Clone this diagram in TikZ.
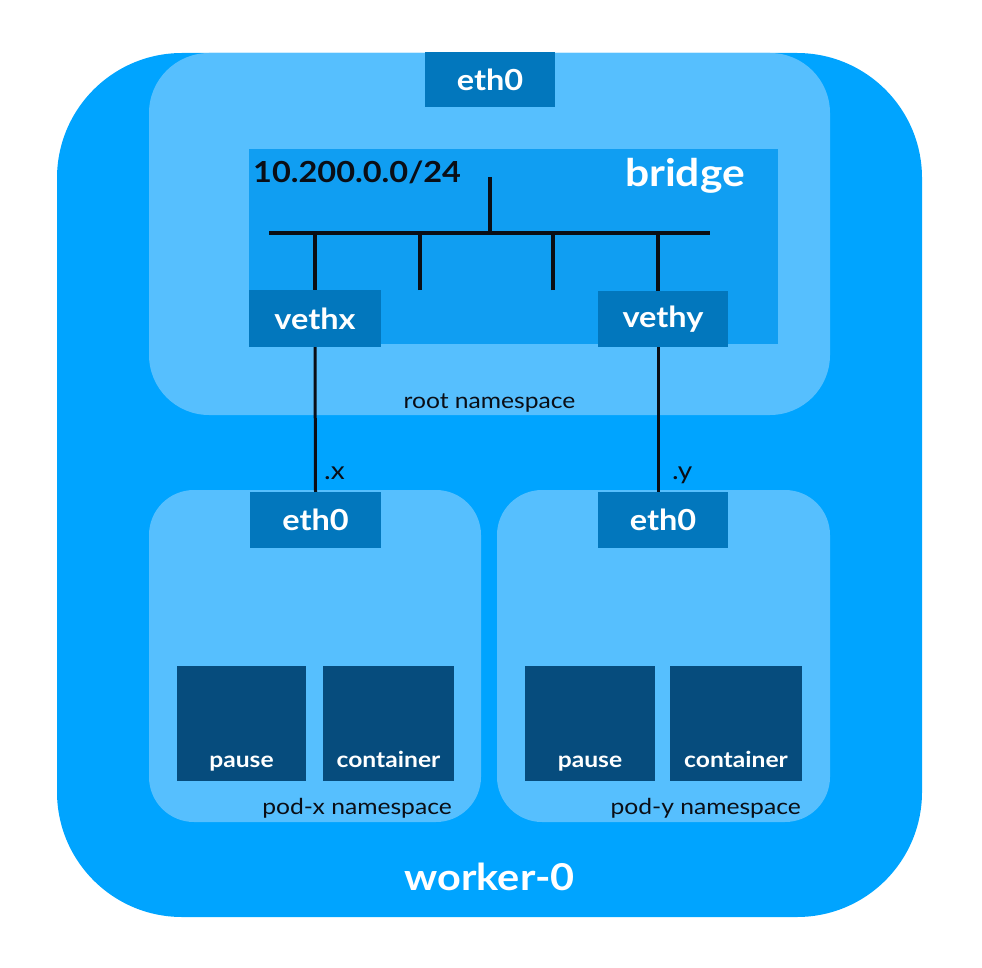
\documentclass[tikz,border=0pt]{standalone}
\usepackage{fontspec}
\setmainfont{Lato}[FakeStretch=1.12]
\usetikzlibrary{positioning}
\definecolor{workerblue}{RGB}{0,164,255}
\definecolor{nsblue}{RGB}{86,191,254}
\definecolor{bridgeblue}{RGB}{16,158,242}
\definecolor{ifblue}{RGB}{2,119,189}
\definecolor{ctrblue}{RGB}{6,76,125}
\definecolor{ink}{RGB}{10,14,22}
\tikzset{
  basic/.style   = {rectangle, inner sep=0pt, text=white},
  worker/.style  = {basic, fill=workerblue, rounded corners=125pt},
  ns/.style      = {basic, fill=nsblue},
  bridgebox/.style = {basic, fill=bridgeblue},
  iface/.style   = {basic, fill=ifblue, minimum width=131pt, minimum height=56pt,
                    font=\bfseries\fontsize{29}{32}\selectfont},
  ctr/.style     = {basic, fill=ctrblue, minimum height=115pt},
  ctrlabel/.style = {anchor=base, yshift=14pt, inner sep=0pt, text=white,
                    font=\bfseries\fontsize{22}{26}\selectfont},
  nslabel/.style = {inner sep=0pt, text=ink, font=\fontsize{22}{26}\selectfont},
  bus/.style     = {draw=ink, line width=4pt},
  wire/.style    = {draw=ink, line width=3pt}
}

\begin{document}
\begin{tikzpicture}[x=1pt,y=-1pt]
\useasboundingbox (0,0) rectangle (982,968);

% the node
\node[worker, minimum width=865pt, minimum height=864pt] (w0) at (489.5,485) {};
\node[nslabel, anchor=base, text=white, font=\bfseries\fontsize{37}{44}\selectfont]
  (w0lbl) at (489.5,890) {worker-0};

% root namespace
\node[ns, rounded corners=60pt, minimum width=681pt, minimum height=362pt] (root) at (489.5,234) {};
\node[iface, minimum width=130pt, minimum height=55pt] (eth0) at (490,79.5) {eth0};
\node[bridgebox, minimum width=529pt, minimum height=195pt] (br) at (513.5,246.5) {};
\node[nslabel, anchor=base west, font=\bfseries\fontsize{29}{32}\selectfont]
  (cidr) at (253,183) {10.200.0.0/24};
\node[nslabel, anchor=base east, text=white, font=\bfseries\fontsize{38}{42}\selectfont]
  (brlbl) at (745,187) {bridge};
\node[iface, minimum width=132pt, minimum height=57pt] (vethx) at (315,318.5) {vethx};
\node[iface, minimum width=130pt] (vethy) at (663,319) {vethy};
\node[nslabel, anchor=base] (rootlbl) at (489.5,408) {root namespace};

% pods
\node[ns, rounded corners=45pt, minimum width=332pt, minimum height=332pt] (podx) at (315,656) {};
\node[ns, rounded corners=45pt, minimum width=333pt, minimum height=332pt] (pody) at (663.5,656) {};
\node[iface] (ethx) at (315.5,520) {eth0};
\node[iface, minimum width=130pt] (ethy) at (663,520) {eth0};

\node[ctr, minimum width=129pt, label={[ctrlabel]south:pause}] (pausex) at (241.5,723.5) {};
\node[ctr, minimum width=131pt, label={[ctrlabel]south:container}] (ctrx) at (388.5,723.5) {};
\node[ctr, minimum width=130pt, label={[ctrlabel]south:pause}] (pausey) at (590,723.5) {};
\node[ctr, minimum width=132pt, label={[ctrlabel]south:container}] (ctry) at (736,723.5) {};

\node[nslabel, anchor=base east] (podxlbl) at (452,814) {pod-x namespace};
\node[nslabel, anchor=base east] (podylbl) at (801,814) {pod-y namespace};

% bridge wiring
\coordinate (busl) at (269,233);
\coordinate (busr) at (710,233);
\coordinate (up) at (490,177);
\coordinate (tap1) at (420,290);
\coordinate (tap2) at (553,290);
\coordinate (portx) at (vethx.north);
\coordinate (porty) at ([xshift=-5pt]vethy.north);
\draw[bus] (busl) -- (busr);
\draw[bus] (up) -- (up |- busl);
\foreach \t in {tap1,tap2,portx,porty}
  \draw[bus] (\t) -- (\t |- busl);

% veth pairs
\draw[wire] (vethx.south) -- (ethx.north);
\draw[wire] ([xshift=-5pt]vethy.south) -- ([xshift=-5pt]ethy.north);
\node[nslabel, anchor=base west, font=\fontsize{25}{28}\selectfont] (dotx) at (324,479) {.x};
\node[nslabel, anchor=base west, font=\fontsize{25}{28}\selectfont] (doty) at (672,479) {.y};

\end{tikzpicture}
\end{document}
